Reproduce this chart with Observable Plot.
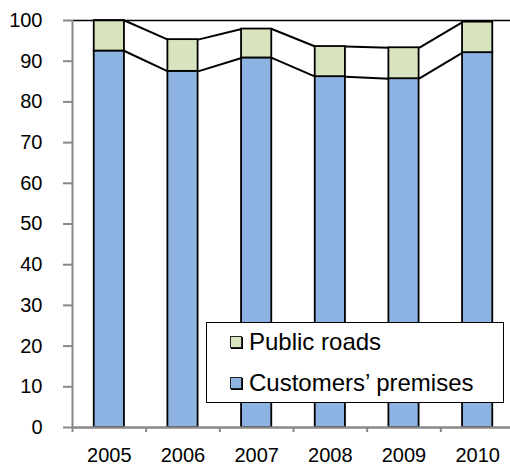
<!DOCTYPE html>
<html><head><meta charset="utf-8">
<script src="https://cdn.jsdelivr.net/npm/d3@7"></script>
<script src="https://cdn.jsdelivr.net/npm/@observablehq/plot@0.6"></script>
<style>
body{margin:0;background:#fff;font-family:"Liberation Sans",Arial,sans-serif}
#wrap{position:relative;width:510px;height:467px;overflow:hidden}
#legend{position:absolute;left:206px;top:322px;width:296px;height:79px;border:1.5px solid #000;background:#fff;font-size:24px;color:#000}
.row{position:absolute;left:23px;display:flex;align-items:center;white-space:nowrap}
.sw{width:10px;height:10px;border:1px solid #222;box-shadow:1px 1px 0 #000;margin-right:7px}
</style>
</head><body><div id="wrap"></div>
<script>
const years = [2005, 2006, 2007, 2008, 2009, 2010];
const customersPremises = [92.5, 87.5, 90.8, 86.2, 85.7, 92.1];
const publicRoads = [7.5, 7.8, 7.1, 7.4, 7.6, 7.5];
const yTicks = [0, 10, 20, 30, 40, 50, 60, 70, 80, 90, 100];
const seriesNames = ["Public roads", "Customers’ premises"];
const seriesColors = ["#D7E4BD", "#8DB3E2"];

const half = 0.205;
const rows = [];
years.forEach((yr, i) => {
  const c = customersPremises[i], t = c + publicRoads[i];
  rows.push({year: yr, s: seriesNames[1], y1: 0, y2: c});
  rows.push({year: yr, s: seriesNames[0], y1: c, y2: t});
});
const links = [];
for (let i = 0; i < years.length - 1; i++) {
  const c0 = customersPremises[i], c1 = customersPremises[i + 1];
  links.push({x1: years[i] + half, x2: years[i + 1] - half, y1: c0, y2: c1});
  links.push({x1: years[i] + half, x2: years[i + 1] - half, y1: c0 + publicRoads[i], y2: c1 + publicRoads[i + 1]});
}
const bounds = years.map(y => y - 0.5).concat([years[years.length - 1] + 0.5]);

const chart = Plot.plot({
  width: 510, height: 467,
  marginLeft: 72, marginRight: 0, marginTop: 20, marginBottom: 40,
  style: {fontFamily: "Liberation Sans, Arial, sans-serif", fontSize: "20px", color: "#000", background: "#fff"},
  x: {type: "linear", domain: [bounds[0], bounds[bounds.length - 1]], range: [72, 514]},
  y: {domain: [0, 100]},
  color: {domain: seriesNames, range: seriesColors},
  marks: [
    Plot.rectY(rows, {x1: d => d.year - half, x2: d => d.year + half, y1: "y1", y2: "y2", fill: "s", stroke: "#000", strokeWidth: 1.8}),
    Plot.link(links, {x1: "x1", x2: "x2", y1: "y1", y2: "y2", stroke: "#000", strokeWidth: 2}),
    Plot.ruleY([100], {stroke: "#000", strokeWidth: 1.5}),
    Plot.ruleY([0], {stroke: "#888", strokeWidth: 2.5}),
    Plot.ruleX([bounds[0]], {y1: 0, y2: 100, stroke: "#888", strokeWidth: 2}),
    Plot.axisY({ticks: yTicks, tickSize: 9, tickPadding: 21, stroke: "#888", strokeWidth: 2, fontSize: 20, label: null}),
    Plot.axisX({ticks: bounds, tickSize: 5, tickFormat: () => "", stroke: "#888", strokeWidth: 2, label: null}),
    Plot.axisX({ticks: years, tickSize: 0, tickPadding: 20, tickFormat: d => String(d), fontSize: 20, label: null})
  ]
});
const wrap = document.getElementById("wrap");
wrap.appendChild(chart);
const lg = document.createElement("div");
lg.id = "legend";
lg.innerHTML = seriesNames.map((n, i) =>
  `<div class="row" style="top:${i === 0 ? 5 : 46}px"><span class="sw" style="background:${seriesColors[i]}"></span>${n}</div>`).join("");
wrap.appendChild(lg);
</script>
</body></html>
